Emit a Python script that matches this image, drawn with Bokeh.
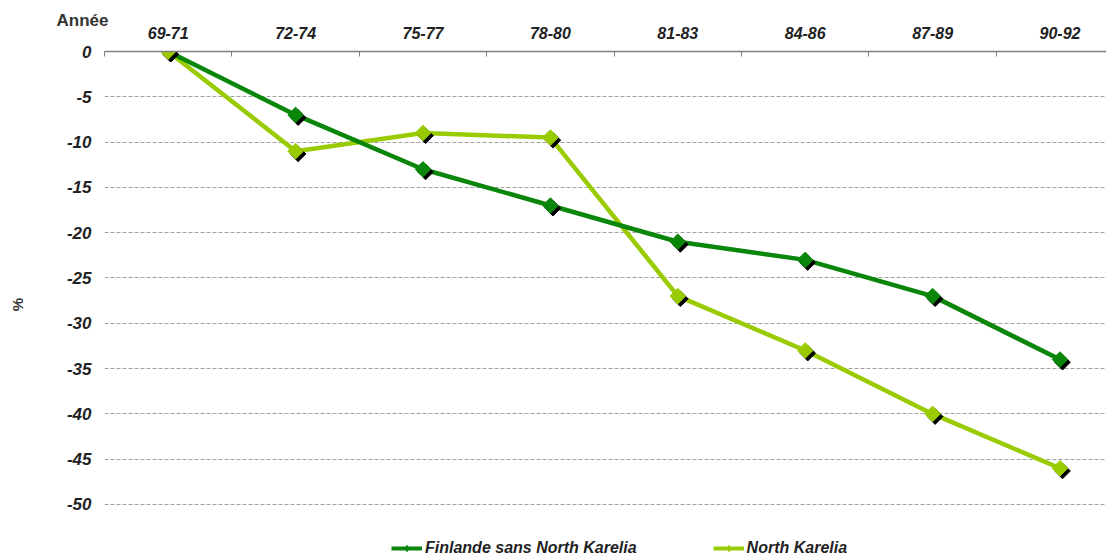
from bokeh.plotting import figure
from bokeh.models import Range1d, FixedTicker, Legend, LegendItem, ColumnDataSource, Title
from bokeh.transform import dodge
from bokeh.embed import file_html
from bokeh.resources import INLINE
import math

categories = ["69-71", "72-74", "75-77", "78-80", "81-83", "84-86", "87-89", "90-92"]
finlande = [0, -7, -13, -17, -21, -23, -27, -34]
north_karelia = [0, -11, -9, -9.5, -27, -33, -40, -46]
y_ticks = list(range(0, -51, -5))
series_names = ["Finlande sans North Karelia", "North Karelia"]

DARK = "#0a860a"
LIGHT = "#99cc00"
FONT = "Liberation Sans"
NAN = float("nan")

idx = list(range(len(categories)))
src = ColumnDataSource(dict(x=idx, fin=finlande, nk=north_karelia))

p = figure(width=1106, height=557, x_range=Range1d(-0.5, 7.365), y_range=Range1d(-55.85, 0),
           output_backend="svg", toolbar_location=None, x_axis_location="above",
           min_border_left=104, min_border_top=51, min_border_bottom=0, min_border_right=0)
p.outline_line_color = None
p.background_fill_color = "white"
p.border_fill_color = "white"

xa = p.xaxis[0]
xa.ticker = FixedTicker(ticks=idx, minor_ticks=[i - 0.5 for i in range(len(categories) + 1)])
xa.major_label_overrides = {i: c for i, c in zip(idx, categories)}
xa.major_tick_in = 0
xa.major_tick_out = 0
xa.minor_tick_in = 5
xa.minor_tick_out = 0
xa.minor_tick_line_color = "#808080"
xa.axis_line_color = "#808080"
xa.axis_line_width = 1.5
xa.major_label_text_font = FONT
xa.major_label_text_font_style = "bold italic"
xa.major_label_text_font_size = "16px"
xa.major_label_text_color = "#222222"
xa.major_label_standoff = 13

ya = p.yaxis[0]
ya.ticker = FixedTicker(ticks=y_ticks)
ya.major_label_overrides = {t: str(t) for t in y_ticks}
ya.axis_line_color = None
ya.major_tick_line_color = None
ya.minor_tick_line_color = None
ya.major_label_text_font = FONT
ya.major_label_text_font_style = "bold italic"
ya.major_label_text_font_size = "17px"
ya.major_label_text_color = "#222222"
ya.major_label_standoff = 7
ya.axis_label = "%"
ya.axis_label_text_font = FONT
ya.axis_label_text_font_style = "bold"
ya.axis_label_text_font_size = "15px"
ya.axis_label_text_color = "#333333"
ya.axis_label_standoff = 38

p.xgrid.grid_line_color = None
p.ygrid.ticker = FixedTicker(ticks=y_ticks[1:])
p.ygrid.grid_line_color = "#a0a0a0"
p.ygrid.grid_line_dash = "4 2"
p.ygrid.grid_line_width = 1

p.line("x", "nk", source=src, line_color=LIGHT, line_width=4.5)
p.line("x", "fin", source=src, line_color=DARK, line_width=4.5)

for col, colr in (("fin", DARK), ("nk", LIGHT)):
    p.scatter(x=dodge("x", 0.02, range=p.x_range), y=dodge(col, -0.3, range=p.y_range), source=src,
              marker="square", angle=math.pi / 4, size=11, fill_color="black", line_color="black")
    p.scatter("x", col, source=src, marker="square", angle=math.pi / 4, size=11,
              fill_color=colr, line_color=colr)

leg_items = []
for name, colr in zip(series_names, (DARK, LIGHT)):
    lr = p.line(x=[NAN], y=[NAN], line_color=colr, line_width=4)
    sr = p.scatter(x=[NAN], y=[NAN], marker="diamond", size=11,
                   fill_color=colr, line_color=colr)
    leg_items.append(LegendItem(label=name, renderers=[lr, sr]))

legend = Legend(items=leg_items, orientation="horizontal", location=(287, 0),
                label_text_font=FONT, label_text_font_style="bold italic",
                label_text_font_size="16px", label_text_color="#222222",
                glyph_width=31, glyph_height=16, label_standoff=3, spacing=76,
                padding=0, margin=0, border_line_color=None, background_fill_alpha=0)
p.add_layout(legend, "center")

p.add_layout(Title(text="Année", align="left", offset=-48, standoff=-12,
                   text_font=FONT, text_font_style="bold", text_font_size="17px",
                   text_color="#333333"), "above")

open("out.html", "w").write(file_html(p, INLINE))
